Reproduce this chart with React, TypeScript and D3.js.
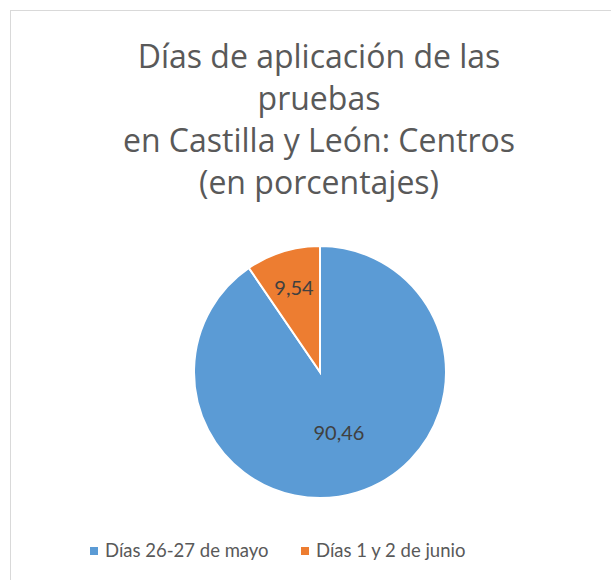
import React, { useEffect, useRef } from "react";
import * as d3 from "d3";

const categories = ["Días 26-27 de mayo", "Días 1 y 2 de junio"];
const values = [90.46, 9.54];
const labels = ["90,46", "9,54"];
const colors = ["#5b9bd5", "#ed7d31"];
const titleLines = [
  "Días de aplicación de las",
  "pruebas",
  "en Castilla y León: Centros",
  "(en porcentajes)",
];

const width = 611;
const height = 580;
const font = "Lato, 'Open Sans', sans-serif";
const titleFont = "'Open Sans', Lato, sans-serif";

const App = () => {
  const ref = useRef<SVGSVGElement>(null);

  useEffect(() => {
    const svg = d3.select(ref.current);
    svg.selectAll("*").remove();

    svg.append("rect").attr("width", width).attr("height", height).attr("fill", "#fff");

    // chart frame
    svg
      .append("rect")
      .attr("x", 10.5)
      .attr("y", 10.5)
      .attr("width", width + 10)
      .attr("height", height + 10)
      .attr("fill", "none")
      .attr("stroke", "#d9d9d9");

    svg
      .append("g")
      .selectAll("text")
      .data(titleLines)
      .enter()
      .append("text")
      .attr("x", 319)
      .attr("y", (_, i) => 68 + i * 42)
      .attr("text-anchor", "middle")
      .attr("font-family", titleFont)
      .attr("font-size", 32)
      .attr("fill", "#595959")
      .text((d) => d);

    const cx = 320;
    const cy = 372;
    const r = 126;

    const pie = d3.pie<number>().sort(null).value((d) => d);
    const arcs = pie(values);
    const arc = d3.arc<d3.PieArcDatum<number>>().innerRadius(0).outerRadius(r);

    const g = svg.append("g").attr("transform", `translate(${cx},${cy})`);
    g.selectAll("path")
      .data(arcs)
      .enter()
      .append("path")
      .attr("d", arc)
      .attr("fill", (_, i) => colors[i])
      .attr("stroke", "#fff")
      .attr("stroke-width", 2);

    // Excel "best fit" puts the small slice label further out
    const labelRadius = [0.51, 0.7];
    g.selectAll("text")
      .data(arcs)
      .enter()
      .append("text")
      .attr("transform", (d, i) => {
        const rr = r * labelRadius[i];
        const c = d3.arc<d3.PieArcDatum<number>>().innerRadius(rr).outerRadius(rr).centroid(d);
        return `translate(${c})`;
      })
      .attr("text-anchor", "middle")
      .attr("dy", "0.35em")
      .attr("font-family", font)
      .attr("font-size", 20)
      .attr("fill", "#404040")
      .text((_, i) => labels[i]);

    const legendX = [90, 301];
    const leg = svg
      .append("g")
      .selectAll("g")
      .data(categories)
      .enter()
      .append("g")
      .attr("transform", (_, i) => `translate(${legendX[i]},0)`);
    leg
      .append("rect")
      .attr("x", 0)
      .attr("y", 547)
      .attr("width", 8)
      .attr("height", 8)
      .attr("fill", (_, i) => colors[i]);
    leg
      .append("text")
      .attr("x", 15)
      .attr("y", 557)
      .attr("font-family", font)
      .attr("font-size", 18.5)
      .attr("fill", "#595959")
      .text((d) => d);
  }, []);

  return (
    <svg
      ref={ref}
      width={width}
      height={height}
      style={{ position: "absolute", left: 0, top: 0, display: "block" }}
    />
  );
};

export default App;
